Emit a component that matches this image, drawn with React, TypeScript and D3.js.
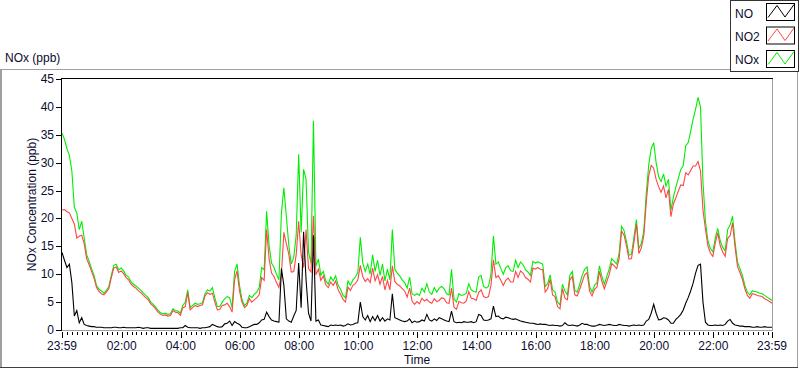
import * as d3 from "d3";

// one sample every 5 minutes, starting at 23:59 (minute 0) and ending 24 h later
const STEP_MIN = 5;

const NOX = [
  35.3, 34.2, 32.5, 31.3, 28.5, 22.0, 21.0, 18.0, 19.5, 16.5, 13.5, 12.3, 11.0,
  9.8, 8.0, 7.3, 7.0, 6.6, 7.1, 7.8, 9.8, 11.6, 11.8, 10.8, 11.1,
  10.6, 9.8, 9.5, 8.6, 8.2, 7.9, 7.5, 7.1, 6.6, 6.2, 5.8, 5.0,
  4.6, 4.1, 3.5, 3.1, 2.9, 3.0, 2.8, 2.9, 3.8, 3.5, 3.4, 3.0,
  4.4, 5.0, 7.2, 4.0, 4.4, 4.8, 4.6, 4.7, 4.9, 6.5, 7.2, 7.0,
  7.6, 5.8, 4.2, 4.2, 5.0, 5.6, 6.0, 5.8, 4.0, 10.5, 11.8, 8.0,
  5.5, 4.4, 4.8, 6.2, 5.8, 6.4, 6.8, 7.6, 11.2, 10.8, 21.3, 15.2,
  12.0, 11.2, 10.0, 9.0, 21.0, 25.5, 20.4, 15.2, 11.8, 13.0, 17.0, 31.5,
  17.5, 28.8, 27.0, 14.0, 12.0, 37.5, 11.5, 12.7, 9.8, 10.5, 8.8, 8.2,
  9.5, 8.8, 9.7, 8.0, 7.3, 6.2, 5.8, 8.8, 8.0, 9.0, 9.5, 10.3,
  16.6, 12.0, 10.5, 11.8, 10.0, 13.5, 10.5, 12.5, 9.8, 11.8, 8.8, 10.9,
  9.0, 18.0, 10.9, 10.2, 9.7, 9.0, 8.5, 7.5, 9.5, 6.5, 6.2, 6.5,
  6.2, 7.5, 6.8, 8.3, 6.8, 6.4, 7.6, 6.8, 7.5, 7.8, 7.4, 6.5,
  6.3, 10.9, 5.6, 5.0, 6.5, 6.2, 6.3, 6.6, 8.3, 7.2, 6.9, 6.8,
  9.5, 9.8, 7.8, 7.5, 7.8, 10.0, 16.9, 11.8, 12.2, 11.0, 10.0, 11.2,
  11.5, 10.6, 10.5, 12.5, 11.2, 12.2, 11.7, 10.8, 10.4, 9.8, 12.3, 12.0,
  12.2, 12.0, 11.8, 7.8, 8.3, 9.9, 7.2, 6.8, 5.0, 4.5, 8.2, 7.0,
  6.3, 9.8, 10.5, 7.1, 6.8, 8.2, 9.8, 10.9, 11.3, 7.8, 6.8, 8.0,
  8.5, 11.5, 9.6, 8.2, 9.6, 11.0, 12.8, 12.3, 11.8, 13.8, 18.6, 17.8,
  15.8, 13.4, 13.6, 16.6, 19.8, 14.6, 15.5, 17.8, 24.5, 29.6, 32.5, 33.6,
  30.0, 27.5, 26.6, 28.0, 25.8, 27.0, 21.5, 23.8, 25.6, 27.2, 28.8, 29.5,
  33.0, 33.6, 35.6, 37.8, 39.6, 41.7, 40.0, 26.5, 19.5, 16.0, 14.6, 14.0,
  16.5, 18.2, 16.0, 14.8, 14.2, 18.0, 18.8, 20.4, 15.8, 12.2, 11.0, 9.8,
  8.0, 6.8, 6.3, 7.0, 6.9, 6.8, 6.6, 6.5, 6.2, 5.9, 5.6, 5.3,
];

const NO = [
  13.9, 12.5, 11.2, 11.8, 8.5, 2.5, 3.5, 1.3, 2.2, 1.0, 0.8, 0.7, 0.6,
  0.6, 0.5, 0.5, 0.5, 0.4, 0.4, 0.4, 0.4, 0.5, 0.5, 0.4, 0.4,
  0.5, 0.4, 0.4, 0.4, 0.4, 0.4, 0.5, 0.4, 0.3, 0.4, 0.4, 0.3,
  0.3, 0.3, 0.3, 0.3, 0.3, 0.3, 0.3, 0.3, 0.3, 0.3, 0.3, 0.4,
  0.4, 0.8, 0.5, 0.4, 0.4, 0.4, 0.4, 0.3, 0.4, 0.4, 0.5, 0.6,
  1.0, 0.8, 0.6, 0.5, 0.6, 1.1, 1.2, 1.6, 0.8, 1.5, 1.2, 1.0,
  0.5, 0.4, 0.4, 0.6, 0.8, 1.0, 1.0, 1.3, 1.8, 1.9, 3.2, 2.4,
  1.8, 1.6, 1.5, 1.4, 11.0, 8.0, 2.0, 1.6, 1.4, 2.5, 3.5, 12.0,
  4.0, 17.6, 9.0, 3.0, 1.6, 17.0, 1.6, 1.8, 0.9, 0.8, 0.7, 0.6,
  0.9, 0.8, 0.9, 0.8, 0.9, 0.7, 0.8, 1.1, 0.9, 1.0, 1.2, 1.3,
  5.0, 2.4, 1.8, 2.6, 1.5, 2.4, 1.7, 2.6, 1.6, 2.2, 1.6, 2.0,
  1.8, 6.5, 2.2, 2.0, 1.8, 1.6, 1.5, 1.6, 2.0, 1.3, 1.6, 1.4,
  1.5, 1.8, 1.6, 2.8, 1.8, 1.6, 2.0, 1.7, 2.2, 2.0, 1.8, 1.6,
  1.5, 3.4, 1.5, 1.3, 1.4, 1.3, 1.5, 1.4, 1.4, 1.5, 1.3, 1.5,
  2.8, 2.6, 1.8, 1.7, 1.8, 2.0, 4.3, 2.4, 2.5, 2.1, 2.0, 2.3,
  2.2, 2.0, 1.9, 2.0, 1.8, 1.6, 1.5, 1.4, 1.3, 1.2, 1.2, 1.1,
  1.0, 1.1, 1.0, 1.0, 0.9, 0.8, 0.9, 0.8, 0.8, 0.7, 0.8, 1.3,
  0.9, 0.8, 0.9, 0.8, 0.7, 0.9, 1.2, 1.0, 1.0, 0.8, 0.7, 0.7,
  0.8, 1.0, 0.9, 0.8, 0.9, 1.0, 0.9, 0.8, 0.8, 1.0, 0.9, 0.8,
  0.8, 0.7, 0.8, 0.9, 0.8, 0.9, 0.8, 0.9, 1.6, 1.9, 3.0, 4.6,
  3.0, 1.8, 1.9, 2.2, 2.1, 1.8, 1.2, 1.2, 1.9, 2.3, 2.8, 3.6,
  4.8, 5.8, 7.0, 8.4, 10.2, 11.6, 11.8, 5.0, 1.4, 0.9, 0.8, 0.8,
  0.9, 0.8, 0.9, 0.8, 1.0, 1.6, 1.9, 1.2, 0.9, 0.8, 0.7, 0.7,
  0.6, 0.6, 0.6, 0.5, 0.5, 0.6, 0.5, 0.5, 0.6, 0.5, 0.5, 0.5,
];

const NO2 = [
  21.5, 21.6, 21.2, 21.0, 20.0, 19.0, 16.5, 16.8, 17.0, 15.5, 12.8, 11.7, 10.5,
  9.3, 7.6, 6.9, 6.5, 6.3, 6.8, 7.4, 9.4, 11.1, 11.3, 10.3, 10.6,
  10.1, 9.4, 9.0, 8.2, 7.8, 7.5, 7.0, 6.7, 6.2, 5.8, 5.4, 4.7,
  4.3, 3.8, 3.2, 2.8, 2.6, 2.7, 2.5, 2.6, 3.5, 3.2, 3.1, 2.6,
  4.0, 4.2, 6.7, 3.6, 4.0, 4.4, 4.2, 4.4, 4.5, 6.1, 6.7, 6.4,
  6.6, 5.0, 3.6, 3.7, 4.4, 4.5, 4.8, 4.2, 3.2, 9.0, 10.6, 7.0,
  5.0, 4.0, 4.4, 5.6, 5.0, 5.4, 5.8, 6.3, 9.4, 8.9, 18.0, 12.8,
  10.2, 9.6, 8.5, 7.6, 10.0, 17.5, 15.5, 13.6, 10.4, 10.5, 13.5, 19.5,
  13.5, 11.2, 18.0, 11.0, 10.4, 20.5, 9.9, 10.9, 8.9, 9.7, 8.1, 7.6,
  8.6, 8.0, 8.8, 7.2, 6.4, 5.5, 5.0, 7.7, 7.1, 8.0, 8.3, 9.0,
  11.6, 9.6, 8.7, 9.2, 8.5, 11.1, 8.8, 9.9, 8.2, 9.6, 7.2, 8.9,
  7.2, 11.5, 8.7, 8.2, 7.9, 7.4, 7.0, 5.9, 7.5, 5.2, 4.6, 5.1,
  4.7, 5.7, 5.2, 5.5, 5.0, 4.8, 5.6, 5.1, 5.3, 5.8, 5.6, 4.9,
  4.8, 7.5, 4.1, 3.7, 5.1, 4.9, 4.8, 5.2, 6.9, 5.7, 5.6, 5.3,
  6.7, 7.2, 6.0, 5.8, 6.0, 8.0, 12.6, 9.4, 9.7, 8.9, 8.0, 8.9,
  9.3, 8.6, 8.6, 10.5, 9.4, 10.6, 10.2, 9.4, 9.1, 8.6, 11.1, 10.9,
  11.2, 10.9, 10.8, 6.8, 7.4, 9.1, 6.3, 6.0, 4.2, 3.8, 7.4, 5.7,
  5.4, 9.0, 9.6, 6.3, 6.1, 7.3, 8.6, 9.9, 10.3, 7.0, 6.1, 7.3,
  7.7, 10.5, 8.7, 7.4, 8.7, 10.0, 11.9, 11.5, 11.0, 12.8, 17.7, 17.0,
  15.0, 12.7, 12.8, 15.7, 19.0, 13.7, 14.7, 16.9, 22.9, 27.7, 29.5, 29.0,
  27.0, 25.7, 24.7, 25.8, 23.7, 25.2, 20.3, 22.6, 23.7, 24.9, 26.0, 25.9,
  28.2, 27.8, 28.6, 29.4, 29.4, 30.2, 28.5, 21.5, 18.1, 15.1, 13.8, 13.2,
  15.6, 17.4, 15.1, 14.0, 13.2, 16.4, 16.9, 19.2, 14.9, 11.4, 10.3, 9.1,
  7.4, 6.2, 5.7, 6.5, 6.4, 6.2, 6.1, 6.0, 5.6, 5.4, 5.1, 4.8,
];

// minutes after 23:59 for each labelled tick
const X_TICK_MINUTES = [0, 121, 241, 361, 481, 601, 721, 841, 961, 1081, 1201, 1321, 1440];
const X_TICK_LABELS = [
  "23:59", "02:00", "04:00", "06:00", "08:00", "10:00", "12:00",
  "14:00", "16:00", "18:00", "20:00", "22:00", "23:59",
];
const Y_TICKS = [0, 5, 10, 15, 20, 25, 30, 35, 40, 45];

const LEGEND = [
  { name: "NO", color: "#000000" },
  { name: "NO2", color: "#ff4646" },
  { name: "NOx", color: "#00ee00" },
];

const W = 800;
const H = 369;
const M = { left: 62, right: 772, top: 79, bottom: 330 };
const FONT = "'Liberation Sans', Arial, sans-serif";
const TXT = "#0c0c30";

export default function App() {
  const x = d3.scaleLinear().domain([0, 1440]).range([M.left, M.right]);
  const y = d3.scaleLinear().domain([0, 45]).range([M.bottom, M.top]);

  const line = d3
    .line<number>()
    .x((_, i) => x(i * STEP_MIN))
    .y((d) => y(d));

  const minorTicks = d3
    .range(1, 1440, 10)
    .filter((m) => !X_TICK_MINUTES.some((t) => Math.abs(t - m) < 3));

  // draw order: NOx underneath, then NO2, NO on top
  const drawn = [
    { values: NOX, color: "#00ee00" },
    { values: NO2, color: "#ff4646" },
    { values: NO, color: "#000000" },
  ];

  return (
    <div style={{ position: "fixed", left: 0, top: 0 }}>
      <svg width={W} height={H} style={{ display: "block", background: "#fff" }} fontFamily={FONT}>
        {/* outer panel */}
        <line x1={0} x2={730} y1={69.5} y2={69.5} stroke="#a0a0a0" />
        <line x1={1} x2={1} y1={69} y2={368} stroke="#a0a0a0" strokeWidth={2} />
        <line x1={797.5} x2={797.5} y1={72} y2={368} stroke="#a0a0a0" />
        <line x1={0} x2={798} y1={367.5} y2={367.5} stroke="#404040" />

        <text x={5} y={62} fontSize={12} fill={TXT}>NOx (ppb)</text>

        {/* legend */}
        <rect x={730.5} y={0.5} width={68} height={71} fill="#fff" stroke="#333" />
        {LEGEND.map((s, i) => {
          const by = 3.5 + i * 23.5;
          return (
            <g key={s.name}>
              <text x={735} y={17.5 + i * 23.2} fontSize={12} fill={TXT}>{s.name}</text>
              <rect x={766.5} y={by} width={28} height={17} fill="#fff" stroke="#000" />
              <polyline
                points={`${768},${by + 14} ${777},${by + 2} ${785},${by + 13.5} ${794},${by + 1}`}
                fill="none"
                stroke={s.color}
              />
            </g>
          );
        })}

        {/* plot area */}
        <rect x={M.left} y={M.top} width={M.right - M.left} height={M.bottom - M.top} fill="#fff" />

        <g>
          {drawn.map((s, i) => (
            <path key={i} d={line(s.values) ?? ""} fill="none" stroke={s.color} strokeWidth={1.1} strokeLinejoin="miter" />
          ))}
        </g>

        {/* frame */}
        <line x1={M.left} x2={M.right + 1} y1={M.bottom + 0.5} y2={M.bottom + 0.5} stroke="#a0a0a0" />
        <line x1={M.right + 0.5} x2={M.right + 0.5} y1={M.top} y2={M.bottom + 1} stroke="#a0a0a0" />
        <line x1={M.left} x2={M.right + 1} y1={M.top - 0.5} y2={M.top - 0.5} stroke="#000" />
        <line x1={M.left - 0.5} x2={M.left - 0.5} y1={M.top - 1} y2={M.bottom + 1} stroke="#000" />

        {/* y axis */}
        {Y_TICKS.map((t) => (
          <g key={t}>
            <line x1={M.left - 6} x2={M.left - 1} y1={Math.round(y(t)) + 0.5} y2={Math.round(y(t)) + 0.5} stroke="#000" />
            <text x={54} y={y(t) + 4} fontSize={12} textAnchor="end" fill={TXT}>{t}</text>
          </g>
        ))}
        <text
          transform={`translate(36,${(M.top + M.bottom) / 2}) rotate(-90)`}
          fontSize={12}
          textAnchor="middle"
          fill={TXT}
        >
          NOx Concentration (ppb)
        </text>

        {/* x axis */}
        {minorTicks.map((m) => (
          <line key={m} x1={Math.round(x(m)) + 0.5} x2={Math.round(x(m)) + 0.5} y1={332} y2={335} stroke="#000" />
        ))}
        {X_TICK_MINUTES.map((m, i) => (
          <g key={i}>
            <line x1={Math.round(x(m)) + 0.5} x2={Math.round(x(m)) + 0.5} y1={332} y2={338} stroke="#000" />
            <text x={x(m)} y={350} fontSize={12} textAnchor="middle" fill={TXT}>{X_TICK_LABELS[i]}</text>
          </g>
        ))}
        <text x={(M.left + M.right) / 2} y={364} fontSize={12} textAnchor="middle" fill={TXT}>Time</text>
      </svg>
    </div>
  );
}
